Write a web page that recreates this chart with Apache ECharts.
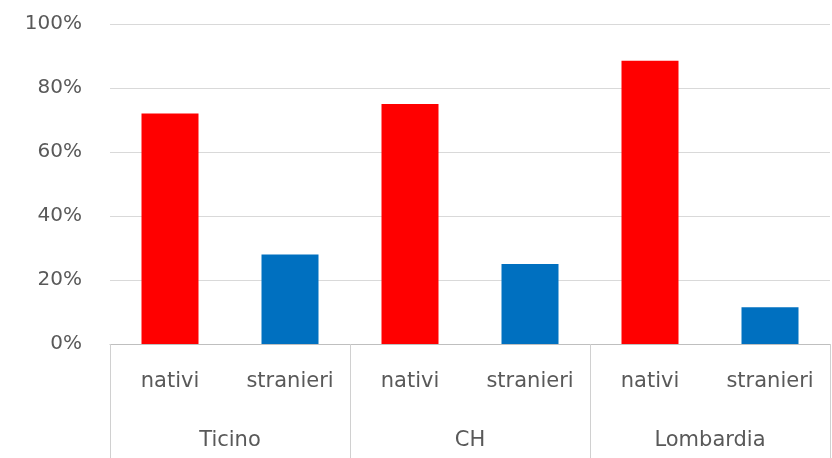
<!DOCTYPE html>
<html>
<head>
<meta charset="utf-8">
<script src="https://cdn.jsdelivr.net/npm/echarts@6/dist/echarts.min.js"></script>
<style>
  html, body { margin: 0; padding: 0; background: #fff; }
  #chart { width: 832px; height: 458px; }
</style>
</head>
<body>
<div id="chart"></div>
<script>
  // categorie e valori
  var groups = ['Ticino', 'CH', 'Lombardia'];
  var subCats = ['nativi', 'stranieri', 'nativi', 'stranieri', 'nativi', 'stranieri'];
  var values = [72, 28, 75, 25, 88.5, 11.5];
  var yTicks = [0, 20, 40, 60, 80, 100];

  var colors = ['#ff0000', '#0070c0'];
  var chart = echarts.init(document.getElementById('chart'));
  var textFont = 'DejaVu Sans';
  var textColor = '#595959';

  chart.setOption({
    animation: false,
    grid: { left: 110, right: 2, top: 24, bottom: 114 },
    xAxis: [
      {
        type: 'category',
        data: subCats,
        position: 'bottom',
        axisLine: { lineStyle: { color: '#bfbfbf', width: 1 } },
        axisTick: { show: false },
        axisLabel: { color: textColor, fontSize: 21, fontFamily: textFont, margin: 27 }
      },
      {
        type: 'category',
        data: groups,
        position: 'bottom',
        axisLine: { show: false },
        axisTick: { show: true, length: 116, lineStyle: { color: '#d0d0d0' } },
        axisLabel: { color: textColor, fontSize: 21, fontFamily: textFont, margin: 86 }
      }
    ],
    yAxis: {
      type: 'value',
      min: yTicks[0],
      max: yTicks[yTicks.length - 1],
      interval: 20,
      axisLine: { show: false },
      axisTick: { show: false },
      splitLine: { lineStyle: { color: '#d9d9d9' } },
      axisLabel: {
        formatter: '{value}%',
        color: textColor,
        fontSize: 20,
        fontFamily: textFont,
        margin: 28
      }
    },
    series: [
      {
        type: 'bar',
        xAxisIndex: 0,
        barWidth: 57,
        data: values.map(function (v, i) {
          return { value: v, itemStyle: { color: colors[i % 2] } };
        })
      }
    ]
  });
</script>
</body>
</html>
